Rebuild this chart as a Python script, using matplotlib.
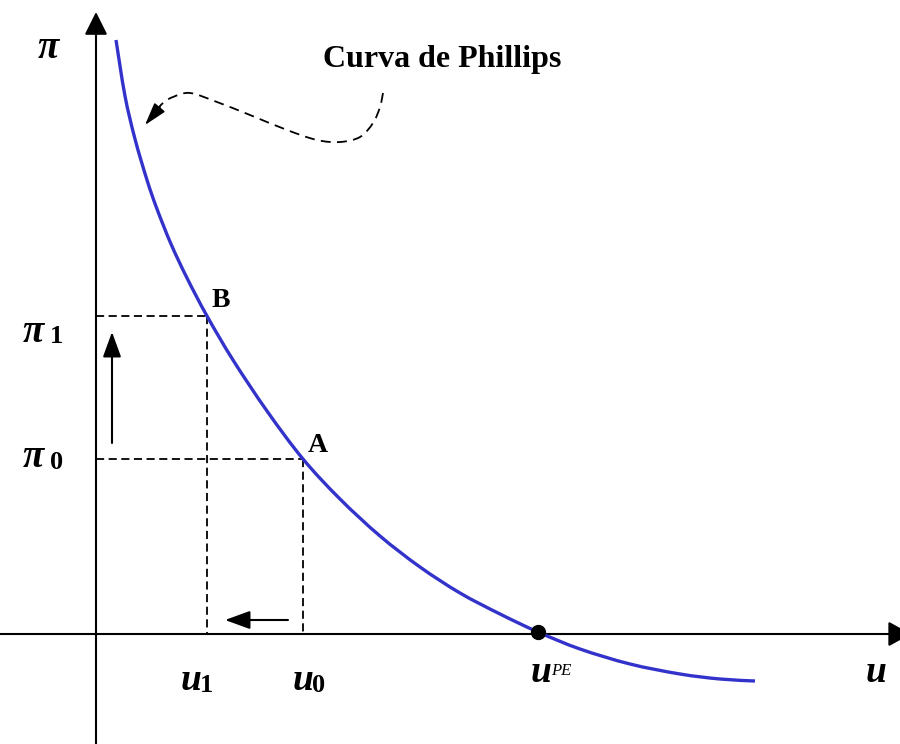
import numpy as np
import matplotlib.pyplot as plt
from matplotlib.path import Path
from matplotlib.patches import PathPatch

# Curva de Phillips (unidades: desemprego u, inflação pi; origem no cruzamento dos eixos)
curve_u = [20, 29, 39, 51, 61, 75, 91, 111, 137, 171, 207, 244, 284, 324, 364,
           404, 442, 484, 534, 584, 624, 659]
curve_pi = [594, 538, 495, 454, 425, 390, 356, 318, 274, 223, 175, 135, 98, 67, 41,
            20, 2, -15, -30, -40, -45, -47]

# pontos A e B
u0, pi0 = 207, 175
u1, pi1 = 111, 318
u_pe, pi_pe = 442, 2

# seta tracejada de "Curva de Phillips"
callout_u = [287, 284, 277, 264, 244, 221, 191, 154, 121, 94, 77, 67, 60]
callout_pi = [541, 527, 511, 497, 492, 494, 504, 519, 532, 541, 537, 531, 523]

serif = 'Liberation Serif'


def smooth_path(xs, ys):
    # curva suave (Catmull-Rom -> Bezier) passando pelos pontos lidos
    pts = np.column_stack([xs, ys]).astype(float)
    verts = [pts[0]]
    codes = [Path.MOVETO]
    for i in range(len(pts) - 1):
        p0 = pts[i - 1] if i > 0 else pts[i]
        p1, p2 = pts[i], pts[i + 1]
        p3 = pts[i + 2] if i + 2 < len(pts) else pts[i + 1]
        verts += [p1 + (p2 - p0) / 6, p2 - (p3 - p1) / 6, p2]
        codes += [Path.CURVE4] * 3
    return Path(verts, codes)


def arrow(ax, tip, tail, hl, hw, lw=1.5):
    ax.annotate('', xy=tip, xytext=tail, annotation_clip=False,
                arrowprops=dict(arrowstyle=f'-|>,head_length={hl},head_width={hw}',
                                mutation_scale=14, lw=lw, color='black',
                                shrinkA=0, shrinkB=0))


fig = plt.figure(figsize=(9, 7.44), dpi=100)
ax = fig.add_axes([0, 0, 1, 1])
ax.set_xlim(-96, 804)
ax.set_ylim(-110, 634)
ax.axis('off')

# eixos
arrow(ax, (815, 0), (-96, 0), 1.0, 0.55)
arrow(ax, (0, 622), (0, -110), 1.0, 0.5)

# linhas tracejadas
dash = dict(color='black', lw=1.3, linestyle=(0, (4.5, 2.5)))
ax.plot([0, u1], [pi1, pi1], **dash)
ax.plot([u1, u1], [pi1, 0], **dash)
ax.plot([0, u0], [pi0, pi0], **dash)
ax.plot([u0, u0], [pi0, 0], **dash)

# curva
ax.add_patch(PathPatch(smooth_path(curve_u, curve_pi), fill=False,
                       edgecolor='#3333cc', lw=2.4, zorder=3))
ax.plot([u_pe], [pi_pe], 'o', color='black', markersize=10, zorder=4)

# setas de deslocamento
arrow(ax, (16, 302), (16, 191), 1.1, 0.4)
arrow(ax, (129, 14), (192, 14), 1.1, 0.4)

# seta tracejada
ax.add_patch(PathPatch(smooth_path(callout_u, callout_pi), fill=False,
                       edgecolor='black', lw=1.3, linestyle=(0, (5.5, 3.5))))
arrow(ax, (49, 509), (64, 527), 1.0, 0.3, lw=1.2)
ax.text(346, 567, 'Curva de Phillips', family=serif, fontweight='bold',
        fontsize=23, ha='center', va='baseline')

# rótulos
bi = dict(family=serif, fontweight='bold', fontstyle='italic', va='baseline', ha='center')
bd = dict(family=serif, fontweight='bold', va='baseline', ha='center')
ax.text(-48, 576, 'π', fontsize=28, **bi)
ax.text(-63, 292, 'π', fontsize=28, **bi)
ax.text(-39, 291, '1', fontsize=19, **bd)
ax.text(-63, 167, 'π', fontsize=28, **bi)
ax.text(-39, 165, '0', fontsize=19, **bd)

ax.text(95, -56, 'u', fontsize=27, **bi)
ax.text(111, -58, '1', fontsize=19, **bd)
ax.text(207, -56, 'u', fontsize=27, **bi)
ax.text(223, -58, '0', fontsize=19, **bd)
ax.text(445, -48, 'u', fontsize=27, **bi)
ax.text(455, -41, 'PE', family=serif, fontstyle='italic', fontsize=12,
        va='baseline', ha='left')
ax.text(780, -48, 'u', fontsize=27, **bi)

ax.text(125, 327, 'B', fontsize=20, **bd)
ax.text(222, 182, 'A', fontsize=20, **bd)

plt.savefig('out.png', dpi=100)
